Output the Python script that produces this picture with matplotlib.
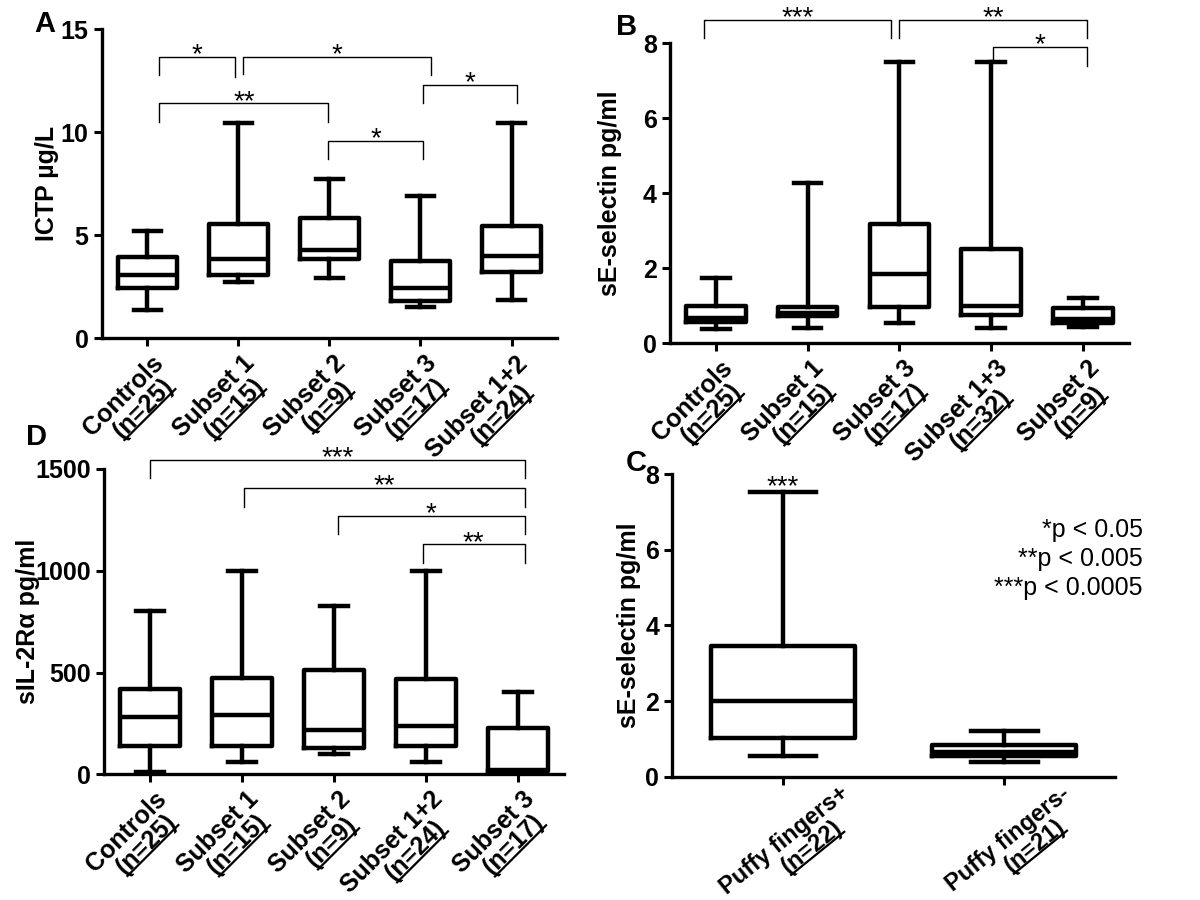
import matplotlib
matplotlib.use("Agg")
import math
import matplotlib.pyplot as plt
from matplotlib.font_manager import FontProperties
from matplotlib.transforms import ScaledTranslation
from matplotlib.lines import Line2D

plt.rcParams['font.family'] = ['Liberation Sans', 'DejaVu Sans']

# Panel A: ICTP
A_labels = ['Controls', 'Subset 1', 'Subset 2', 'Subset 3', 'Subset 1+2']
A_n = [25, 15, 9, 17, 24]
A_whislo = [1.38, 2.72, 2.94, 1.54, 1.86]
A_q1 = [2.46, 3.07, 3.83, 1.81, 3.20]
A_med = [3.07, 3.83, 4.29, 2.46, 4.00]
A_q3 = [3.96, 5.53, 5.83, 3.77, 5.47]
A_whishi = [5.23, 10.47, 7.72, 6.93, 10.47]
# (x1, x2, bar y, left leg end, right leg end, stars)
A_brackets = [(0.13, 0.96, 13.67, 12.78, 12.67, '*'),
              (1.05, 3.12, 13.67, 12.82, 12.78, '*'),
              (0.13, 1.99, 11.41, 10.52, 10.52, '**'),
              (3.03, 4.06, 12.30, 11.41, 11.41, '*'),
              (1.99, 3.03, 9.60, 8.69, 8.69, '*')]

# Panel B: sE-selectin by subset
B_labels = ['Controls', 'Subset 1', 'Subset 3', 'Subset 1+3', 'Subset 2']
B_n = [25, 15, 17, 32, 9]
B_whislo = [0.38, 0.40, 0.53, 0.42, 0.43]
B_q1 = [0.57, 0.72, 0.98, 0.76, 0.53]
B_med = [0.68, 0.80, 1.85, 1.00, 0.65]
B_q3 = [1.00, 0.98, 3.17, 2.51, 0.93]
B_whishi = [1.75, 4.27, 7.51, 7.51, 1.22]
B_brackets = [(-0.13, 1.91, 8.62, 8.14, 8.14, '***'),
              (2.00, 4.05, 8.62, 8.14, 8.14, '**'),
              (3.02, 4.05, 7.90, 7.51, 7.39, '*')]

# Panel D: sIL-2Ra
D_labels = ['Controls', 'Subset 1', 'Subset 2', 'Subset 1+2', 'Subset 3']
D_n = [25, 15, 9, 24, 17]
D_whislo = [13, 62, 100, 62, 5]
D_q1 = [141, 141, 131, 141, 18]
D_med = [283, 291, 218, 237, 22]
D_q3 = [418, 472, 513, 467, 229]
D_whishi = [804, 1000, 829, 1000, 406]
D_brackets = [(0.00, 4.07, 1544, 1454, 1454, '***'),
              (1.02, 4.07, 1408, 1315, 1315, '**'),
              (2.04, 4.07, 1269, 1179, 1179, '*'),
              (2.96, 4.07, 1130, 1040, 1040, '**')]

# Panel C: sE-selectin by puffy fingers
C_labels = ['Puffy fingers+', 'Puffy fingers-']
C_n = [22, 21]
C_whislo = [0.555, 0.40]
C_q1 = [1.01, 0.55]
C_med = [2.01, 0.66]
C_q3 = [3.45, 0.84]
C_whishi = [7.53, 1.21]

legend_lines = ['*p < 0.05', '**p < 0.005', '***p < 0.0005']

fig = plt.figure(figsize=(12, 9), dpi=100)
renderer = fig.canvas.get_renderer()


def text_size_in(s, prop):
    w, h, d = renderer.get_text_width_height_descent(s, prop, ismath=False)
    return w / fig.dpi, h / fig.dpi, d / fig.dpi


def group_labels(ax, labels, ns, anchor=(0.04, -0.13), angle=45, size=18, L=0.225, f=0.3):
    prop = FontProperties(family=['Liberation Sans', 'DejaVu Sans'], weight='bold', size=size)
    ca, sa = math.cos(math.radians(angle)), math.sin(math.radians(angle))
    _, hlp, dlp = text_size_in('lp', prop)
    for i, (name, n) in enumerate(zip(labels, ns)):
        s2 = '(n=%d)' % n
        w1, _, _ = text_size_in(name, prop)
        w2, h2, d2 = text_size_in(s2, prop)
        trans = fig.dpi_scale_trans + ScaledTranslation(i, 0, ax.get_xaxis_transform())
        fig.text(anchor[0], anchor[1], name, transform=trans, rotation=angle,
                 rotation_mode='anchor', ha='right', va='top', fontproperties=prop)
        # second line: one line lower, its end pulled back by f of the width difference
        back = f * (w1 - w2) + w2 / 2
        cx = anchor[0] - back * ca + L * sa
        cy = anchor[1] - back * sa - L * ca
        fig.text(cx, cy, s2, transform=trans, rotation=angle, rotation_mode='anchor',
                 ha='center', va='top', fontproperties=prop)
        h = max(h2, hlp)
        d = max(d2, dlp)
        ul = (h - d) + 0.45 * d
        bx, by = cx + ul * sa, cy - ul * ca
        line = Line2D([bx - w2 / 2 * ca, bx + w2 / 2 * ca], [by - w2 / 2 * sa, by + w2 / 2 * sa],
                      transform=trans, color='k', lw=1.6, solid_capstyle='butt')
        fig.add_artist(line)


def add_brackets(ax, brackets):
    for x1, x2, y, lo1, lo2, stars in brackets:
        ax.plot([x1, x1, x2, x2], [lo1, y, y, lo2], color='k', lw=1.0, clip_on=False)
        ax.annotate(stars, xy=((x1 + x2) / 2, y), xytext=(0, -4), textcoords='offset points',
                    ha='center', va='baseline', fontsize=20, annotation_clip=False)


def box_panel(rect, whislo, q1, med, q3, whishi, ylim, yticks, ylabel, label_x):
    ax = fig.add_axes(rect)
    stats = [dict(whislo=a, q1=b, med=m, q3=d, whishi=e)
             for a, b, m, d, e in zip(whislo, q1, med, q3, whishi)]
    lp = dict(color='k', linewidth=3.2)
    ax.bxp(stats, positions=list(range(len(stats))), widths=0.65, capwidths=0.3,
           showfliers=False, manage_ticks=False,
           boxprops=lp, whiskerprops=lp, capprops=lp, medianprops=lp)
    ax.set_xlim(-0.5, len(stats) - 0.5)
    ax.set_ylim(*ylim)
    ax.set_yticks(yticks)
    ax.set_xticks(list(range(len(stats))))
    ax.set_xticklabels([])
    for s in ['top', 'right']:
        ax.spines[s].set_visible(False)
    for s in ['left', 'bottom']:
        ax.spines[s].set_linewidth(2.4)
    ax.tick_params(width=2.2, length=6, labelsize=18, direction='out')
    for t in ax.get_yticklabels():
        t.set_fontweight('bold')
    ax.set_ylabel(ylabel, fontsize=18, fontweight='bold')
    ax.yaxis.set_label_coords(label_x, 0.5)
    return ax


axA = box_panel([0.0848, 0.6241, 0.3794, 0.3433], A_whislo, A_q1, A_med, A_q3, A_whishi,
                (0, 15), [0, 5, 10, 15], 'ICTP µg/L', -0.094)
group_labels(axA, A_labels, A_n)
add_brackets(axA, A_brackets)

axB = box_panel([0.5583, 0.6186, 0.3823, 0.3333], B_whislo, B_q1, B_med, B_q3, B_whishi,
                (0, 8), [0, 2, 4, 6, 8], 'sE-selectin pg/ml', -0.105)
group_labels(axB, B_labels, B_n)
add_brackets(axB, B_brackets)

axD = box_panel([0.0869, 0.1397, 0.3833, 0.3392], D_whislo, D_q1, D_med, D_q3, D_whishi,
                (0, 1500), [0, 500, 1000, 1500], 'sIL-2Rα pg/ml', -0.14)
group_labels(axD, D_labels, D_n)
add_brackets(axD, D_brackets)

axC = box_panel([0.5603, 0.1370, 0.3689, 0.3363], C_whislo, C_q1, C_med, C_q3, C_whishi,
                (0, 8), [0, 2, 4, 6, 8], 'sE-selectin pg/ml', -0.07)
group_labels(axC, C_labels, C_n, anchor=(0.56, -0.05), angle=39, size=17, L=0.22, f=0.3)
axC.annotate('***', xy=(0, C_whishi[0]), xytext=(0, -1.5), textcoords='offset points',
             ha='center', va='baseline', fontsize=20, annotation_clip=False)

narrow = ['Liberation Sans Narrow', 'Liberation Sans', 'DejaVu Sans']
for k, s in enumerate(legend_lines):
    fig.text(1143 / 1200, 1 - (537 + 29 * k) / 900, s, ha='right', va='baseline',
             fontsize=18, family=narrow)

# panel letters
for letter, px, py in [('A', 45, 24), ('B', 627, 27), ('D', 36, 437), ('C', 636, 463)]:
    fig.text(px / 1200, 1 - py / 900, letter, ha='center', va='center', fontsize=21, fontweight='bold')

fig.savefig('out.png', dpi=100)
